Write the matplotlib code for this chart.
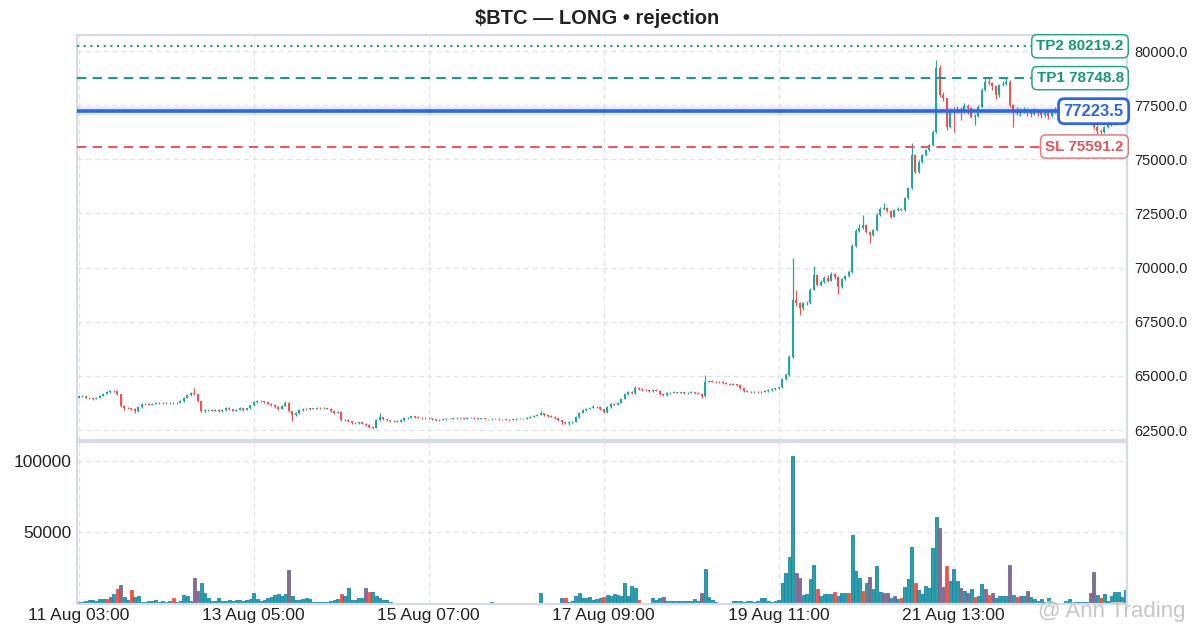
import numpy as np
import matplotlib
matplotlib.use("Agg")
import matplotlib.pyplot as plt
import matplotlib.transforms as mtransforms

plt.rcParams['font.family'] = ['Liberation Sans', 'DejaVu Sans']

# ---------------- data ----------------
title = "$BTC \u2014 LONG \u2022 rejection"
open0 = 64000
close = [
64050,64060,64000,63960,63940,64000,64080,64180,64250,64320,
64290,64150,63620,63520,63500,63480,63380,63560,63720,63700,
63680,63720,63760,63740,63760,63740,63770,63730,63770,63830,
64000,64120,64200,64150,63830,63380,63420,63440,63400,63420,
63380,63420,63520,63450,63400,63440,63520,63430,63500,63640,
63780,63850,63820,63800,63720,63660,63560,63480,63620,63760,
63380,63200,63280,63420,63480,63470,63500,63480,63520,63500,
63510,63490,63380,63300,63350,62960,62960,62900,62840,62820,
62850,62800,62740,62650,62600,62950,63100,63000,62950,62900,
62920,62880,62950,63050,63060,63130,63100,63080,63060,63080,
63050,62990,62960,62980,63000,63030,63010,63040,63060,63050,
63030,63060,63070,63040,63020,63050,63010,62990,63010,63020,
63000,62990,62980,62970,63000,63010,63010,63030,63080,63120,
63150,63200,63280,63200,63150,63120,63060,62950,62850,62830,
62860,62880,63100,63300,63420,63480,63540,63580,63560,63450,
63330,63550,63700,63680,63750,63950,64150,64250,64200,64450,
64380,64350,64330,64300,64350,64320,64150,64100,64200,64230,
64250,64220,64240,64200,64230,64250,64210,64180,64050,64730,
64780,64740,64700,64720,64660,64650,64600,64620,64580,64420,
64300,64280,64250,64260,64240,64280,64300,64350,64400,64420,
64470,64850,65050,65880,68500,68350,68120,68350,68380,68980,
69650,69200,69350,69500,69400,69700,69550,69120,69460,69600,
69800,71000,71700,71820,71960,71660,71500,71740,72430,72700,
72740,72600,72350,72650,72700,72640,73200,73660,75200,74430,
74890,75200,75430,75660,76280,79200,77970,77820,76500,77280,
77250,77300,77200,77480,77350,76970,76980,77430,78200,78580,
78520,78400,77970,78430,78500,78550,77500,77280,77150,77250,
77300,77200,77100,77250,77180,77050,77150,77000,77200,77250,
77300,77280,77320,77250,77300,77350,77280,77320,77250,77100,
76500,76300,76250,76500,76580,76660,76750,76820,76900,76950,
]
high = [
64090,64100,64080,64020,63990,64030,64110,64220,64290,64370,
64360,64310,64170,63660,63560,63540,63510,63590,63760,63750,
63730,63750,63800,63790,63800,63790,63810,63800,63800,63870,
64040,64160,64250,64440,64180,63860,63470,63480,63470,63460,
63450,63460,63550,63550,63480,63480,63560,63540,63540,63680,
63830,63890,63880,63850,63830,63750,63690,63590,63660,63850,
63790,63400,63320,63460,63520,63520,63540,63530,63560,63550,
63550,63540,63520,63410,63390,63370,63000,62990,62930,62870,
62890,62880,62830,62770,62680,62990,63270,63120,63030,62980,
62960,62950,62990,63090,63100,63170,63160,63130,63110,63110,
63110,63080,63020,63010,63030,63060,63050,63070,63090,63090,
63070,63090,63100,63090,63060,63080,63070,63030,63040,63050,
63040,63030,63010,63000,63030,63040,63040,63060,63110,63150,
63190,63240,63380,63300,63230,63180,63140,63080,62970,62880,
62900,62920,63140,63340,63460,63520,63580,63640,63620,63590,
63470,63590,63740,63740,63800,63990,64190,64300,64290,64530,
64480,64420,64390,64370,64380,64390,64350,64180,64240,64270,
64290,64280,64280,64270,64270,64290,64280,64250,64210,65040,
64830,64810,64780,64760,64750,64700,64680,64660,64650,64610,
64450,64330,64310,64300,64290,64320,64340,64390,64440,64460,
64510,64890,65150,65950,70430,68970,68420,68400,68450,69050,
70070,69720,69420,69600,69650,69780,69760,69600,69520,69680,
69900,71100,71780,72000,72430,72000,71700,71800,72500,72800,
72970,72800,72650,72700,72780,72760,73260,73720,75740,75250,
74950,75260,75500,75720,76350,79585,79350,78100,77850,77350,
77400,77450,77400,77600,77550,77400,77100,77500,78300,78800,
78750,78580,78450,78500,78600,78800,78650,77550,77400,77350,
77400,77350,77250,77350,77300,77250,77250,77200,77300,77400,
77450,77400,77420,77380,77400,77450,77400,77420,77380,77300,
77150,76600,76400,76550,76650,76720,76800,76880,76950,77000,
]
low = [
63980,64020,63970,63930,63900,63920,63980,64060,64150,64230,
64250,64120,63580,63430,63460,63420,63300,63350,63540,63660,
63640,63650,63700,63710,63710,63710,63720,63700,63700,63750,
63810,63980,64090,64120,63800,63340,63330,63390,63360,63370,
63340,63350,63400,63420,63370,63380,63420,63400,63410,63480,
63620,63760,63790,63770,63690,63630,63520,63440,63460,63600,
63330,62900,63150,63260,63400,63430,63440,63450,63460,63470,
63470,63460,63350,63260,63270,62920,62900,62860,62800,62780,
62790,62760,62700,62600,62530,62580,62930,62960,62910,62860,
62870,62850,62860,62930,63020,63040,63070,63050,63030,63030,
63020,62960,62930,62940,62960,62980,62990,62990,63020,63030,
63010,63010,63040,63020,63000,63000,62990,62970,62970,62990,
62980,62970,62950,62940,62950,62980,62990,62990,63010,63060,
63100,63130,63180,63170,63120,63090,63030,62920,62800,62780,
62730,62820,62860,63080,63280,63390,63450,63510,63520,63420,
63290,63310,63530,63640,63650,63730,63920,64120,64170,64180,
64340,64310,64300,64270,64270,64290,64110,64060,64080,64180,
64200,64190,64190,64170,64180,64200,64180,64150,63990,64030,
64700,64700,64660,64670,64630,64610,64570,64570,64540,64380,
64270,64240,64210,64220,64200,64210,64250,64270,64320,64370,
64390,64450,64820,65000,65850,68250,67810,68060,68280,68330,
68950,69150,69150,69300,69350,69380,69480,68800,69080,69420,
69560,69750,70950,71650,71780,71600,71120,71460,71700,72380,
72650,72550,72300,72320,72600,72600,72600,73150,73620,74350,
74380,74850,75150,75380,75620,76200,77900,77700,76350,76450,
76275,77150,76800,77150,77100,76900,76600,76950,77400,78150,
78450,78200,77800,77900,78380,78450,77400,76500,77050,77000,
77150,77000,76950,77050,77000,76900,76950,76850,76950,77150,
77150,77200,77200,77150,77200,77250,77200,77200,77150,77000,
76400,76150,76150,76200,76450,76520,76600,76700,76780,76850,
]
volume = [
1500,1500,2000,2800,2800,2300,3300,3300,3300,5100,
7000,10250,13300,5100,2800,9800,5100,5600,1600,1500,
2300,2300,2800,1500,2300,1500,2000,4000,1600,2000,
6300,5800,2300,18000,9000,14400,8000,4000,2300,2300,
3960,2300,2300,2800,2300,2800,2800,2300,2800,3300,
7500,3300,2300,2800,4000,5100,6300,7000,5600,7000,
23800,5600,2800,2800,3300,4000,3300,1600,1600,1600,
1600,1600,2300,2800,3300,7000,5600,11000,2800,2800,
3960,3960,11000,8600,8600,5600,3960,2800,2800,1500,
1000,900,900,1000,900,1000,900,900,1000,900,
1000,900,900,600,500,500,500,500,500,500,
500,500,500,500,500,500,500,500,1400,500,
500,500,500,500,500,500,500,500,500,500,
500,500,7500,900,900,900,900,900,3960,3960,
1600,2300,5600,7500,3960,3960,4660,2800,3300,3960,
5100,6300,5600,7000,6300,5600,14450,5600,12600,10950,
2800,930,930,930,3960,2800,3960,4660,2300,2300,
2300,2300,2300,2300,2300,2300,3260,2300,7460,24200,
5130,2800,1630,930,930,930,930,2330,2000,2330,
1630,2330,2330,1630,2330,3960,3960,2330,1630,2330,
3000,14450,21900,32600,103450,21900,17940,6300,7000,17240,
27260,10250,5600,7000,7000,7000,8150,5600,7460,7460,
7460,48200,23070,17940,9320,14900,18640,10250,26560,8620,
7920,7920,3960,5830,3260,3960,11650,17240,39600,14900,
9790,7000,12580,10950,38900,61000,52900,11650,26800,16300,
24230,16300,10950,9090,7920,10250,4660,5830,13980,10250,
6300,7460,3960,5600,5600,5600,27260,6300,4660,5830,
5830,8850,4660,3260,2330,3260,1630,3960,1630,930,
930,930,2330,3260,1630,1630,1630,1630,1630,7920,
22600,6300,3960,7000,2330,5600,8150,8150,5130,9790,
]
# volume bars drawn in the "sell" (red) and "mixed" (mauve) colours; the rest are "buy"
vol_sell_idx = [8, 11, 15, 27, 75, 83, 139, 150, 160, 211, 216, 220, 224, 235,
                239, 248, 256, 260, 268, 292]
vol_mixed_idx = [9, 12, 33, 34, 60, 82, 167, 178, 205, 206, 226, 230, 231, 233,
                 246, 247, 252, 254, 259, 261, 266, 269, 271, 289, 290]

x_tick_pos = [0, 50, 100, 150, 200, 250]
x_tick_labels = ["11 Aug 03:00", "13 Aug 05:00", "15 Aug 07:00",
                 "17 Aug 09:00", "19 Aug 11:00", "21 Aug 13:00"]
price_ticks = [62500, 65000, 67500, 70000, 72500, 75000, 77500, 80000]
vol_ticks = [50000, 100000]

tp2 = 80219.2
tp1 = 78748.8
entry = 77223.5
sl = 75591.2

# ---------------- styles ----------------
UP = '#26a69a'
DN = '#ef5350'
MIX = '#8b6b8b'
TEAL_LINE = '#1f9a80'
TEAL_TXT = '#14987a'
BLUE = '#2f66e0'
RED_LINE = '#e35d5d'
GRID = '#dfe3ea'
SPINE = '#d6dbe4'

c = np.array(close, float)
o = np.concatenate([[open0], c[:-1]])
h = np.maximum(np.array(high, float), np.maximum(o, c))
l = np.minimum(np.array(low, float), np.minimum(o, c))
v = np.array(volume, float)
x = np.arange(len(c))
up = c >= o

fig = plt.figure(figsize=(11.94, 6.38), dpi=100)
ax = fig.add_axes([0.0645, 0.3103, 0.8794, 0.6348])
axv = fig.add_axes([0.0645, 0.0533, 0.8794, 0.2539], sharex=ax)

for a in (ax, axv):
    a.grid(True, color=GRID, linestyle=(0, (4, 3)), linewidth=0.9)
    a.set_axisbelow(True)
    for s in a.spines.values():
        s.set_color(SPINE)
        s.set_linewidth(1.6)
    a.tick_params(length=0)

# candles
cols = np.where(up, UP, DN)
ax.vlines(x, l, h, colors=cols, linewidth=0.9, zorder=2)
body = np.maximum(np.abs(c - o), 14)
ax.bar(x, body, bottom=np.minimum(o, c), width=0.65, color=cols, linewidth=0, zorder=2)

# level lines
ax.axhline(tp2, color=TEAL_LINE, linestyle=(0, (1, 2.2)), linewidth=1.5, zorder=3)
ax.axhline(tp1, color=TEAL_LINE, linestyle=(0, (4.5, 3)), linewidth=1.5, zorder=3)
ax.axhline(entry, color=BLUE, linewidth=6, alpha=0.15, zorder=3)
ax.axhline(entry, color=BLUE, linewidth=2.6, zorder=3)
ax.axhline(sl, color=RED_LINE, linestyle=(0, (4.5, 3)), linewidth=1.5, zorder=3)

trans = mtransforms.blended_transform_factory(ax.transAxes, ax.transData)
def label(y, txt, col, ec, fs, lw, pad):
    ax.text(0.9968, y, txt, transform=trans, ha='right', va='center',
            fontsize=fs, fontweight='bold', color=col, zorder=10, clip_on=False,
            bbox=dict(boxstyle='round,pad=%s,rounding_size=0.35' % pad, fc='white',
                      ec=ec, lw=lw))

label(tp2, "TP2 80219.2", TEAL_TXT, '#2aa58a', 11, 1.1, 0.3)
label(tp1, "TP1 78748.8", TEAL_TXT, '#2aa58a', 11, 1.1, 0.3)
label(entry, "77223.5", BLUE, BLUE, 12, 2.0, 0.3)
label(sl, "SL 75591.2", '#e0555a', '#e87a7a', 11, 1.1, 0.3)

ax.set_xlim(-0.5, len(c) - 0.5)
ax.set_ylim(62040, 80740)
ax.yaxis.tick_right()
ax.set_yticks(price_ticks)
ax.set_yticklabels(['%.1f' % t for t in price_ticks], fontsize=10.5, color='#222222')
ax.tick_params(axis='y', pad=5)
ax.tick_params(axis='x', labelbottom=False)

# volume
sell = set(vol_sell_idx)
mixed = set(vol_mixed_idx)
vcols = []
ecols = []
for i in range(len(v)):
    if i in mixed:
        vcols.append(MIX); ecols.append('#6f6c98')
    elif i in sell:
        vcols.append(DN); ecols.append('#ef5350')
    else:
        vcols.append(UP); ecols.append('#1f7fb8')
axv.bar(x, v, width=0.85, color=vcols, edgecolor=ecols, linewidth=0.6, zorder=2)
axv.set_ylim(0, 113000)
axv.set_yticks(vol_ticks)
axv.set_yticklabels([str(t) for t in vol_ticks], fontsize=12.5, color='#222222')
axv.set_xticks(x_tick_pos)
axv.set_xticklabels(x_tick_labels, fontsize=12.5, color='#222222')
axv.tick_params(axis='y', pad=4)
axv.tick_params(axis='x', pad=3)

fig.text(0.5, 1 - 18 / 638, title, ha='center', va='center',
         fontsize=14.5, fontweight='bold', color='#222222')
fig.text(0.993, 1 - 612 / 638, "@ Ann Trading", ha='right', va='center',
         fontsize=16, color='#c6c6c6')

fig.savefig('out.png', dpi=100)
